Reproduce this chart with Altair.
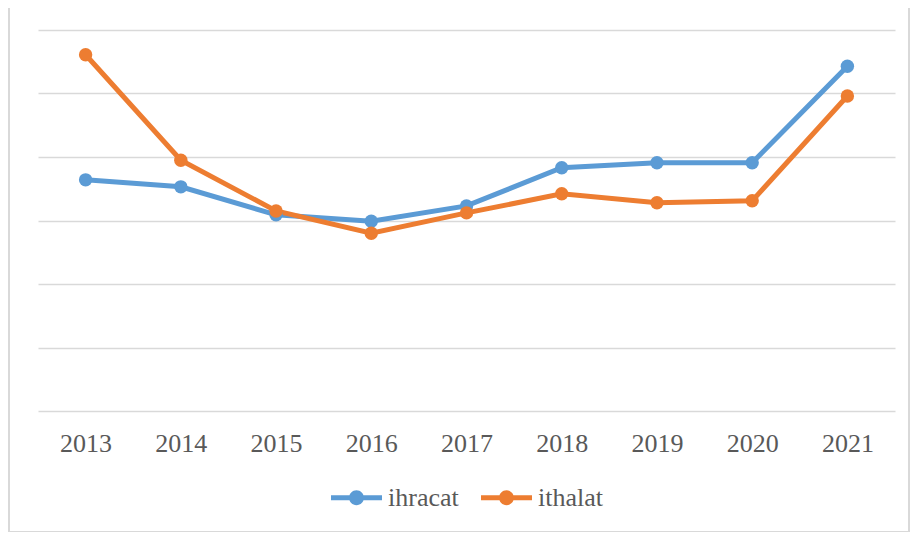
import altair as alt
import pandas as pd

years = ["2013", "2014", "2015", "2016", "2017", "2018", "2019", "2020", "2021"]
ihracat = [3.64, 3.53, 3.09, 2.99, 3.23, 3.83, 3.91, 3.91, 5.43]
ithalat = [5.61, 3.95, 3.15, 2.80, 3.12, 3.42, 3.28, 3.31, 4.96]
series_names = ["ihracat", "ithalat"]
colors = ["#5B9BD5", "#ED7D31"]

rows = []
for y, a, b in zip(years, ihracat, ithalat):
    rows.append({"year": y, "series": "ihracat", "value": a})
    rows.append({"year": y, "series": "ithalat", "value": b})
df = pd.DataFrame(rows)

legend_symbol = (
    "M-1,-0.1H-0.25V0.1H-1Z M0.25,-0.1H1V0.1H0.25Z "
    "M0.29,0A0.29,0.29 0 1,1 -0.29,0A0.29,0.29 0 1,1 0.29,0Z"
)

serif = "Times New Roman"

lines = alt.Chart(df).mark_line(
    strokeWidth=5, point=alt.OverlayMarkDef(size=180, filled=True, opacity=1)
).encode(
    x=alt.X("year:N", sort=years, title=None,
            scale=alt.Scale(paddingInner=0, paddingOuter=0.5),
            axis=alt.Axis(labelAngle=0, ticks=False, domain=False, grid=False,
                          labelFont=serif, labelFontSize=26,
                          labelColor="#595959", labelPadding=19)),
    y=alt.Y("value:Q", title=None,
            scale=alt.Scale(domain=[0, 6], nice=False),
            axis=alt.Axis(values=[0, 1, 2, 3, 4, 5, 6], labels=False, ticks=False,
                          domain=False, grid=True, gridColor="#d9d9d9",
                          gridWidth=1.5)),
    color=alt.Color("series:N", scale=alt.Scale(domain=series_names, range=colors),
                    legend=alt.Legend(title=None, orient="none", direction="horizontal",
                                      legendX=293, legendY=442,
                                      symbolType=legend_symbol, symbolSize=2600,
                                      symbolStrokeWidth=0, symbolOpacity=1,
                                      labelFont=serif, labelFontSize=26,
                                      labelColor="#595959", labelOffset=6,
                                      columnPadding=22)),
)

frame = alt.Chart(pd.DataFrame({"k": [0]})).mark_rect(
    fill=None, stroke="#d9d9d9", strokeWidth=2, clip=False
).encode(
    x=alt.value(-29), x2=alt.value(871), y=alt.value(-28), y2=alt.value(502)
)

chart = alt.layer(frame, lines).properties(
    width=857, height=381,
    background="white",
    autosize=alt.AutoSizeParams(type="none"),
    padding={"left": 30, "top": 22, "right": 15, "bottom": 121},
).configure_view(strokeWidth=0)

chart.save("out.html", embed_options={"renderer": "svg", "actions": False})
